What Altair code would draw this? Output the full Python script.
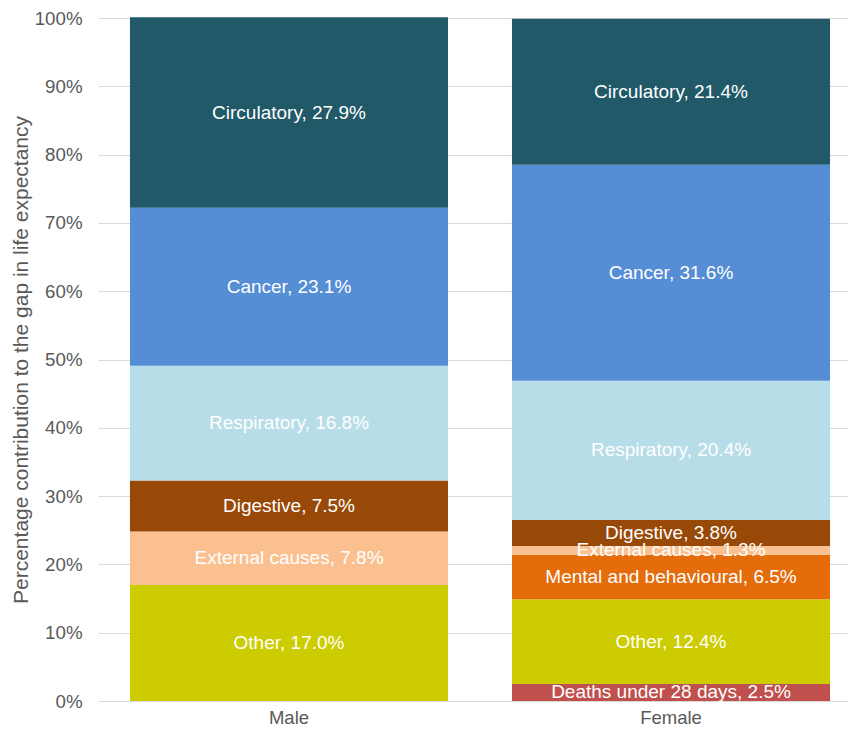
import altair as alt
import pandas as pd

sexes = ["Male", "Female"]
causes = ["Deaths under 28 days", "Other", "Mental and behavioural", "External causes",
          "Digestive", "Respiratory", "Cancer", "Circulatory"]
colors = ["#C0504D", "#CCCC00", "#E46C0A", "#FAC090", "#984807", "#B7DDE8", "#558ED5", "#215968"]
male_values = [None, 17.0, None, 7.8, 7.5, 16.8, 23.1, 27.9]
female_values = [2.5, 12.4, 6.5, 1.3, 3.8, 20.4, 31.6, 21.4]

rows = []
for sex, vals in zip(sexes, [male_values, female_values]):
    for i, (c, v) in enumerate(zip(causes, vals)):
        if v is None:
            continue
        rows.append({"sex": sex, "cause": c, "value": v, "ord": i,
                     "label": f"{c}, {v:.1f}%"})
df = pd.DataFrame(rows)

font = "Liberation Sans"

base = alt.Chart(df).transform_stack(
    stack="value", groupby=["sex"], as_=["y0", "y1"],
    sort=[alt.SortField("ord", order="ascending")]
).transform_calculate(mid="(datum.y0 + datum.y1) / 2")

x_enc = alt.X("sex:N", sort=sexes, title=None,
              scale=alt.Scale(paddingInner=0.1675, paddingOuter=0.0654, align=0.64),
              axis=alt.Axis(labelAngle=0, labelFont=font, labelFontSize=18.5,
                            labelColor="#595959", ticks=False, domain=False, labelPadding=7))

bars = base.mark_bar().encode(
    x=x_enc,
    y=alt.Y("y0:Q", scale=alt.Scale(domain=[0, 100], nice=False),
            title="Percentage contribution to the gap in life expectancy",
            axis=alt.Axis(values=list(range(0, 101, 10)), labelExpr="datum.value + '%'",
                          labelFont=font, labelFontSize=18.7, labelColor="#595959",
                          titleFont=font, titleFontSize=21, titleColor="#595959",
                          titleFontWeight="normal", ticks=False, domain=False,
                          gridColor="#D9D9D9", labelPadding=16, titlePadding=3)),
    y2="y1:Q",
    color=alt.Color("cause:N", scale=alt.Scale(domain=causes, range=colors), legend=None),
)

texts = base.mark_text(color="white", font=font, fontSize=19, baseline="middle").encode(
    x=alt.X("sex:N", sort=sexes),
    y=alt.Y("mid:Q"),
    text="label:N",
)

chart = alt.layer(bars, texts).properties(
    width=750, height=683,
    autosize=alt.AutoSizeParams(type="none"),
    padding={"left": 90, "top": 10, "right": 0, "bottom": 27},
).configure_view(stroke=None)

chart.save("out.html", embed_options={"renderer": "svg", "actions": False})
